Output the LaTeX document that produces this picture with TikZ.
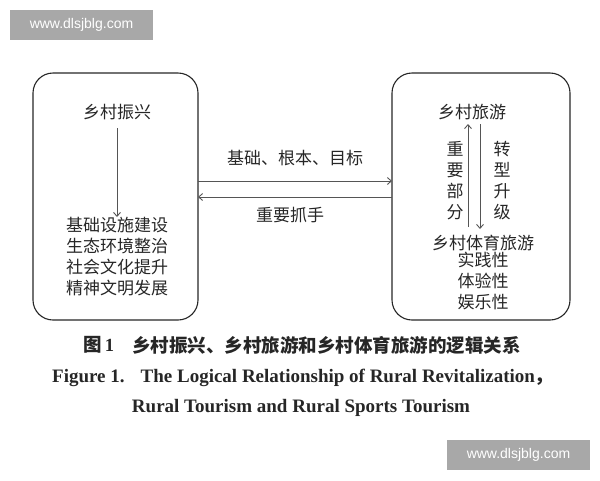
\documentclass[tikz,border=0pt]{standalone}
\usepackage{fontspec}
\setmainfont{Liberation Serif}
\newfontfamily\cjk{Noto Sans CJK SC}
\newfontfamily\wm{Liberation Sans}
\usetikzlibrary{arrows.meta}
\definecolor{wmgray}{HTML}{A8A8A8}
\definecolor{linegray}{HTML}{555555}
\begin{document}
\begin{tikzpicture}[x=1pt,y=-1pt,
  wmbox/.style={fill=wmgray,text=white,font=\wm\fontsize{14}{14}\selectfont,inner sep=0pt,minimum width=143pt,minimum height=30pt},
  bigbox/.style={draw=black!85,line width=1.1pt,rounded corners=20pt},
  zh/.style={font=\cjk\fontsize{17}{21}\selectfont,text=black!85,inner sep=0pt,align=center},
  conn/.style={draw=linegray,line width=0.9pt,-{Straight Barb[length=4pt,width=7pt]}},
  capzh/.style={font=\cjk\bfseries\fontsize{18.5}{20}\selectfont,text=black!85,inner sep=0pt},
  capen/.style={font=\bfseries\fontsize{19}{20}\selectfont,text=black!85,inner sep=0pt}]
\useasboundingbox (0,0) rectangle (600,480);
\node[wmbox] (wm1) at (81.5,25) {www.dlsjblg.com};
\node[wmbox] (wm2) at (518.5,455) {www.dlsjblg.com};
% boxes
\draw[bigbox] (33,73) rectangle (198,320);
\draw[bigbox] (392,73) rectangle (570,320);
% left box
\node[zh] (lx) at (117,112) {乡村振兴};
\node[zh,anchor=north] (ll) at (117,217) {基础设施建设\\生态环境整治\\社会文化提升\\精神文明发展};
\draw[conn] (lx.south) ++(0,8) coordinate (la) -- (ll.north);
% right box
\node[zh] (ly) at (472,112) {乡村旅游};
\node[zh] (sp) at (483,243) {乡村体育旅游};
\node[zh,anchor=north] (sx) at (483,252) {实践性\\体验性\\娱乐性};
\coordinate (upS) at (468,227);
\coordinate (upE) at (468,124);
\coordinate (dnS) at (480,124);
\coordinate (dnE) at (480,229);
\draw[conn] (upS) -- (upE);
\draw[conn] (dnS) -- (dnE);
\node[zh] (zy) at (455,181) {重\\要\\部\\分};
\node[zh] (zx) at (502,181) {转\\型\\升\\级};
% middle connectors
\coordinate (a1) at (198,181);
\coordinate (a2) at (392,181);
\coordinate (b1) at (392,197);
\coordinate (b2) at (198,197);
\draw[conn] (a1) -- (a2);
\draw[conn] (b1) -- (b2);
\node[zh] (t1) at (295,158) {基础、根本、目标};
\node[zh] (t2) at (290,215) {重要抓手};
% caption
\node[capzh,anchor=west] (c0) at (83,345) {图\,{\fontspec{Liberation Serif}1}};
\node[capzh,anchor=west] (c1) at (132,345) {乡村振兴、乡村旅游和乡村体育旅游的逻辑关系};
\node[capen,anchor=west] (c2) at (52,378) {Figure 1.\hspace{16pt}The Logical Relationship of Rural Revitalization{\cjk ，}};
\node[capen] (c3) at (301,408) {Rural Tourism and Rural Sports Tourism};
\end{tikzpicture}
\end{document}
